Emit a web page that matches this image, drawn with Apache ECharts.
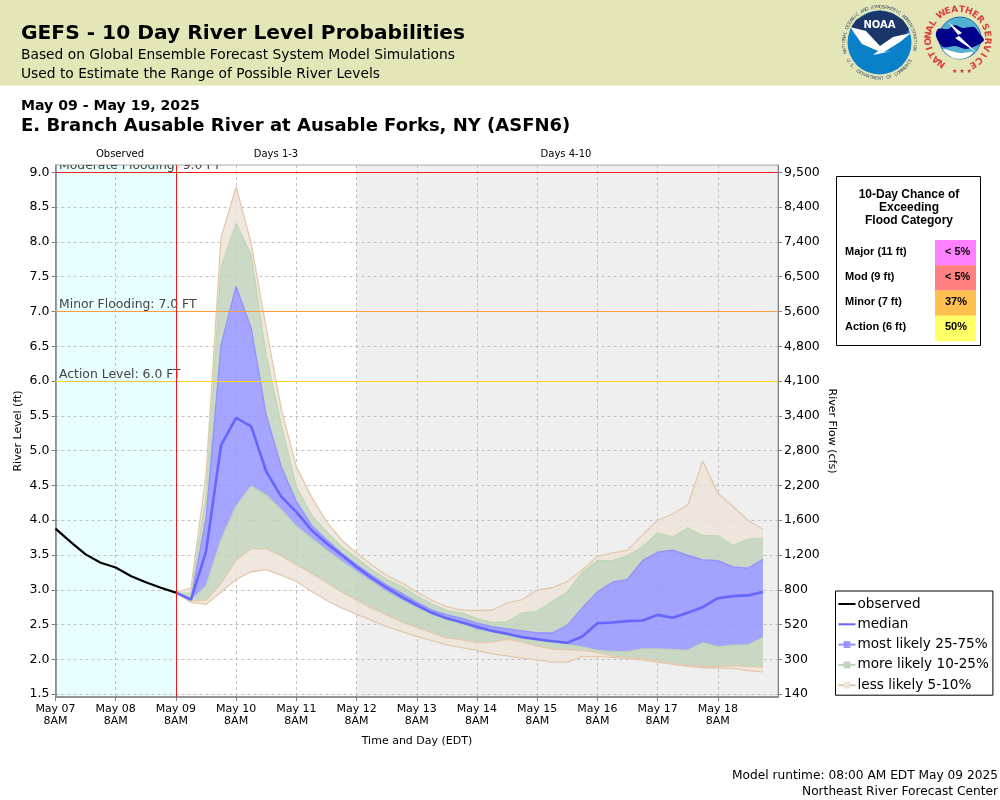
<!DOCTYPE html>
<html lang="en">
<head>
<meta charset="utf-8">
<title>GEFS River Level Probabilities</title>
<script src="https://cdn.jsdelivr.net/npm/echarts@6/dist/echarts.min.js"></script>
<style>
html,body{margin:0;padding:0;background:#fff}
#main{width:1000px;height:800px}
</style>
</head>
<body>
<div id="main"></div>
<script>
var days = ['May 07','May 08','May 09','May 10','May 11','May 12','May 13','May 14','May 15','May 16','May 17','May 18','May 19'];
var stepNames = ['8AM','2PM','8PM','2AM'];
var levelTicks = [1.5,2,2.5,3,3.5,4,4.5,5,5.5,6,6.5,7,7.5,8,8.5,9];
var flowTicks = ['140','300','520','800','1,200','1,600','2,200','2,800','3,400','4,100','4,800','5,600','6,500','7,400','8,400','9,500'];

// observed every 6h from May 07 8AM to May 09 8AM
var observed = [3.88,3.69,3.51,3.39,3.32,3.20,3.11,3.03,2.96];

// forecast every 6h from May 09 8AM
var median = [2.96,2.86,3.55,5.08,5.47,5.35,4.70,4.34,4.12,3.86,3.67,3.50,3.33,3.17,3.03,2.90,2.78,2.67,2.59,2.53,2.47,2.41,2.37,2.32,2.29,2.26,2.24,2.33,2.52,2.53,2.55,2.56,2.64,2.60,2.67,2.75,2.88,2.91,2.92,2.97];
var p5  = [2.96,2.82,2.79,2.97,3.15,3.26,3.29,3.21,3.12,2.98,2.85,2.74,2.65,2.56,2.47,2.40,2.33,2.27,2.21,2.17,2.13,2.08,2.05,2.02,1.99,1.96,1.96,2.04,2.04,2.03,2.01,1.99,1.96,1.93,1.90,1.88,1.88,1.87,1.84,1.82];
var p10 = [2.96,2.84,2.85,3.09,3.43,3.59,3.59,3.49,3.36,3.24,3.11,2.97,2.85,2.74,2.64,2.54,2.46,2.38,2.31,2.28,2.24,2.25,2.29,2.25,2.19,2.15,2.14,2.13,2.10,2.05,2.03,2.01,1.98,1.94,1.91,1.90,1.90,1.91,1.90,1.89];
var p25 = [2.96,2.85,3.05,3.72,4.20,4.49,4.36,4.15,3.91,3.74,3.57,3.41,3.26,3.12,2.97,2.85,2.74,2.64,2.56,2.52,2.42,2.40,2.34,2.31,2.27,2.24,2.21,2.18,2.13,2.11,2.11,2.15,2.15,2.14,2.13,2.24,2.18,2.20,2.21,2.31];
var p75 = [2.96,2.87,4.02,6.52,7.36,6.76,5.51,4.77,4.27,3.93,3.72,3.53,3.36,3.21,3.07,2.95,2.82,2.71,2.64,2.59,2.52,2.47,2.44,2.41,2.38,2.38,2.49,2.74,2.97,3.11,3.15,3.42,3.54,3.57,3.50,3.43,3.42,3.33,3.31,3.44];
var p90 = [2.96,2.95,4.35,7.64,8.27,7.81,6.37,5.37,4.48,4.08,3.84,3.62,3.46,3.29,3.15,3.05,2.91,2.80,2.70,2.67,2.59,2.53,2.54,2.67,2.69,2.83,2.97,3.25,3.42,3.42,3.49,3.62,3.82,3.76,3.89,3.78,3.78,3.64,3.73,3.74];
var p95 = [2.96,3.03,4.65,8.06,8.79,7.98,6.76,5.60,4.77,4.34,3.98,3.72,3.53,3.36,3.21,3.10,2.97,2.85,2.76,2.71,2.70,2.71,2.81,2.86,3.00,3.03,3.12,3.29,3.48,3.53,3.57,3.79,4.00,4.09,4.22,4.85,4.39,4.20,4.00,3.87];

var thresholdLevels = [6, 7, 9];
var thresholdNames = ['Action Level: 6.0 FT', 'Minor Flooding: 7.0 FT', 'Moderate Flooding: 9.0 FT'];
var thresholdColors = ['#ffd21e', '#ff9e40', '#f02020'];

var floodRows = ['Major (11 ft)', 'Mod (9 ft)', 'Minor (7 ft)', 'Action (6 ft)'];
var floodChances = ['< 5%', '< 5%', '37%', '50%'];
var floodColors = ['#ff80ff', '#ff8080', '#ffc050', '#ffff66'];

var sans = '"DejaVu Sans"';
var arial = '"Liberation Sans"';

// category axis, one slot per 6h
var slots = [];
for (var d = 0; d < days.length; d++) {
    for (var s = 0; s < 4; s++) {
        if (d == days.length - 1 && s > 0) break;
        slots.push(days[d] + '\n' + stepNames[s]);
    }
}

// forecast starts 8 slots in
var lead = observed.slice(0, 8).map(function () { return null; });
function pad(arr) { return lead.concat(arr); }
function diff(hi, lo) {
    return pad(hi.map(function (v, i) { return +(v - lo[i]).toFixed(2); }));
}

var TAN = {line: '#e2c9ac', fill: '#ede4d8'};
var GREEN = {line: '#bfd8b4', fill: '#c2d2bd'};
var BLUE = {line: '#9090ff', fill: '#9595ff'};

function band(name, data, col, area) {
    return {
        name: name, type: 'line', stack: 'range', data: data,
        symbol: 'rect', showSymbol: false, silent: true, z: 3,
        lineStyle: {color: col.line, width: 1.3},
        itemStyle: {color: col.fill},
        areaStyle: area ? {color: col.fill, opacity: 0.85} : null
    };
}

var LESS = 'less likely 5-10%', MORE = 'more likely 10-25%', MOST = 'most likely 25-75%';
var gridLine = {color: '#c0c0c0', width: 1, type: [3, 3]};

var series = [
    // shaded periods and the "now" line
    {
        type: 'line', data: [], silent: true,
        markArea: {
            silent: true, z: -1,
            data: [
                [{xAxis: slots[0], itemStyle: {color: '#e9ffff'}}, {xAxis: slots[8]}],
                [{xAxis: slots[20], itemStyle: {color: '#efefef'}}, {xAxis: slots[48]}]
            ]
        },
        markLine: {
            silent: true, symbol: 'none', label: {show: false}, z: 8,
            data: [{xAxis: slots[8], lineStyle: {color: '#f01818', width: 1, type: 'solid'}}]
        }
    },
    // horizontal grid at the round levels
    {
        type: 'line', data: [], silent: true,
        markLine: {
            silent: true, symbol: 'none', label: {show: false}, z: 0,
            lineStyle: gridLine,
            data: levelTicks.map(function (v) { return {yAxis: v}; })
        }
    },
    band(LESS, pad(p5), TAN, false),
    band(LESS, diff(p10, p5), TAN, true),
    band(MORE, diff(p25, p10), GREEN, true),
    band(MOST, diff(p75, p25), BLUE, true),
    band(MORE, diff(p90, p75), GREEN, true),
    band(LESS, diff(p95, p90), TAN, true),
    {
        name: 'median', type: 'line', data: pad(median), symbol: 'rect', showSymbol: false, silent: true, z: 5,
        lineStyle: {color: '#6666ff', width: 2.6}, itemStyle: {color: '#6666ff'}
    },
    {
        name: 'observed', type: 'line', data: observed, symbol: 'rect', showSymbol: false, silent: true, z: 6,
        lineStyle: {color: '#000', width: 2.2}, itemStyle: {color: '#000'}
    },
    // threshold lines and their labels, clipped to the plot
    {
        type: 'custom', silent: true, z: 7, clip: true,
        data: thresholdLevels.map(function (v) { return [0, v]; }),
        renderItem: function (params, api) {
            var p = api.coord([api.value(0), api.value(1)]);
            return {
                type: 'text', x: p[0] + 3.5, y: p[1] - 0.5,
                style: {
                    text: thresholdNames[params.dataIndex], fill: '#444',
                    font: '12.4px ' + sans, verticalAlign: 'bottom'
                }
            };
        },
        markLine: {
            silent: true, symbol: 'none', label: {show: false}, z: 7,
            data: thresholdLevels.map(function (v, i) {
                return {yAxis: v, lineStyle: {color: thresholdColors[i], width: 1, type: 'solid'}};
            })
        }
    }
];

function txt(x, y, text, font, extra) {
    var style = {x: x, y: y, text: text, font: font, fill: '#000', verticalAlign: 'middle'};
    for (var k in extra) style[k] = extra[k];
    return {type: 'text', z: 20, silent: true, style: style};
}

function poly(z, fill, pts, smooth) {
    return {type: 'polygon', z: z, silent: true, shape: {points: pts, smooth: smooth || 0}, style: {fill: fill}};
}

// letters placed one by one around a circle, used for the logos
function arcText(cx, cy, r, text, startDeg, stepDeg, font, fill, inward) {
    var out = [];
    for (var i = 0; i < text.length; i++) {
        var deg = startDeg + i * stepDeg;
        var a = deg * Math.PI / 180;
        out.push({
            type: 'text', z: 21, silent: true,
            x: cx + r * Math.sin(a), y: cy - r * Math.cos(a),
            rotation: inward ? -a + Math.PI : -a,
            style: {text: text.charAt(i), font: font, fill: fill, align: 'center', verticalAlign: 'middle'}
        });
    }
    return out;
}

var graphics = [
    {type: 'rect', z: 10, silent: true, shape: {x: 0, y: 0, width: 1000, height: 85.5}, style: {fill: '#e5e6b8'}},
    txt(21, 34, 'GEFS - 10 Day River Level Probabilities', 'bold 20.2px ' + sans),
    txt(21, 55, 'Based on Global Ensemble Forecast System Model Simulations', '13.8px ' + sans),
    txt(21, 74, 'Used to Estimate the Range of Possible River Levels', '13.8px ' + sans),
    txt(21, 106, 'May 09 - May 19, 2025', 'bold 14.1px ' + sans),
    txt(21, 126, 'E. Branch Ausable River at Ausable Forks, NY (ASFN6)', 'bold 18px ' + sans),
    txt(120, 154, 'Observed', '10px ' + sans, {align: 'center'}),
    txt(276, 154, 'Days 1-3', '10px ' + sans, {align: 'center'}),
    txt(566, 154, 'Days 4-10', '10px ' + sans, {align: 'center'}),
    txt(417, 741, 'Time and Day (EDT)', '11px ' + sans, {align: 'center'}),
    txt(998, 776, 'Model runtime: 08:00 AM EDT May 09 2025', '12.2px ' + sans, {align: 'right'}),
    txt(998, 792, 'Northeast River Forecast Center', '12.2px ' + sans, {align: 'right'}),

    // flood category box
    {type: 'rect', z: 10, silent: true, shape: {x: 836.5, y: 176.5, width: 144, height: 169}, style: {fill: '#fff', stroke: '#000', lineWidth: 1}},
    txt(909, 195, '10-Day Chance of', 'bold 12px ' + arial, {align: 'center'}),
    txt(909, 208, 'Exceeding', 'bold 12px ' + arial, {align: 'center'}),
    txt(909, 221, 'Flood Category', 'bold 12px ' + arial, {align: 'center'}),

    // NOAA logo
    {type: 'circle', z: 11, silent: true, shape: {cx: 879.5, cy: 42.5, r: 32}, style: {fill: '#0a80c8'}},
    poly(12, '#1b3668', [[850,29],[856,20],[868,13],[880,10.5],[892,13],[903,20],[909,29],[905,36],[890,42],[878,52],[865,38]]),
    poly(13, '#fff', [[850,27],[866,31],[880,46],[893,37],[911,33],[900,42],[884,52],[892,51],[873,55],[878,51],[862,44]]),
    txt(879.5, 25.5, 'NOAA', 'bold 10px ' + sans, {align: 'center', fill: '#fff'}),

    // NWS logo
    {type: 'circle', z: 11, silent: true, shape: {cx: 960, cy: 38, r: 21}, style: {fill: '#52b0d0', stroke: '#2a6fa8', lineWidth: 1}},
    poly(12, '#00008b', [[936,36],[938,29],[948,29],[955,25],[963,28],[974,27],[979,33],[984,40],[978,45],[966,49],[955,46],[943,47]], 0.3),
    poly(13, '#fff', [[948,22],[962,33],[958,35],[977,53],[955,38],[959,36]]),
    poly(12, '#fff', [[943,49],[960,53],[973,52],[966,58],[953,58]], 0.3),
    txt(962, 71, '\u2605 \u2605 \u2605', '6px ' + sans, {align: 'center', fill: '#c8323c'})
];

floodRows.forEach(function (row, i) {
    var y = 240 + i * 25.2;
    graphics.push({type: 'rect', z: 15, silent: true, shape: {x: 935, y: y, width: 41, height: 25.6}, style: {fill: floodColors[i]}});
    graphics.push(txt(845, y + 11.5, row, 'bold 11px ' + arial));
    graphics.push(txt(945, y + 11.5, floodChances[i], 'bold 11px ' + arial));
});

graphics = graphics
    .concat(arcText(879.5, 42.5, 35.5, 'NATIONAL OCEANIC AND ATMOSPHERIC ADMINISTRATION', -106, 4.5, '4.5px ' + sans, '#3c4a6a', false))
    .concat(arcText(879.5, 42.5, 36, 'U.S. DEPARTMENT OF COMMERCE', 240, -4.6, '4.5px ' + sans, '#3c4a6a', true))
    .concat(arcText(958, 39, 29.5, 'NATIONAL', -146, 12.7, 'bold 9px ' + sans, '#d8403a', false))
    .concat(arcText(958, 39, 29.5, 'WEATHER', -34, 13.8, 'bold 9px ' + sans, '#d8403a', false))
    .concat(arcText(958, 39, 29.5, 'SERVICE', 66, 14, 'bold 9px ' + sans, '#d8403a', false));

var chart = echarts.init(document.getElementById('main'), null, {renderer: 'canvas'});
chart.setOption({
    animation: false,
    backgroundColor: '#fff',
    textStyle: {fontFamily: sans},
    grid: {
        left: 55.5, top: 165, width: 722.5, height: 532, outerBoundsMode: 'none',
        show: true, borderColor: '#aaa', borderWidth: 1, backgroundColor: 'transparent'
    },
    legend: {
        orient: 'vertical', left: 835.5, top: 591,
        data: [
            {name: 'observed', itemStyle: {opacity: 0}},
            {name: 'median', itemStyle: {opacity: 0}},
            MOST, MORE, LESS
        ],
        selectedMode: false,
        backgroundColor: '#fff', borderColor: '#000', borderWidth: 1,
        padding: [6, 4, 3, 2], itemGap: 6.3, itemWidth: 17, itemHeight: 8.5,
        textStyle: {fontFamily: sans, fontSize: 13.6, color: '#000', padding: [0, 0, 0, -3]}
    },
    xAxis: {
        type: 'category', data: slots, boundaryGap: false,
        axisLine: {onZero: false, lineStyle: {color: '#808080', width: 1.5}},
        axisTick: {interval: 3, length: 4, lineStyle: {color: '#808080'}},
        splitLine: {show: true, interval: 3, lineStyle: gridLine},
        axisLabel: {
            interval: 3, color: '#000', fontSize: 11, lineHeight: 12, margin: 6,
            showMaxLabel: false, fontFamily: sans,
            formatter: function (v) { return v.indexOf(days[12]) === 0 ? '' : v; }
        }
    },
    yAxis: [
        {
            type: 'value', min: 1.46, max: 9.105,
            name: 'River Level (ft)', nameLocation: 'middle', nameGap: 32, nameRotate: 90, nameMoveOverlap: false,
            nameTextStyle: {color: '#000', fontSize: 11},
            axisLine: {show: true, lineStyle: {color: '#808080', width: 1.5}},
            axisTick: {show: true, length: 4, customValues: levelTicks, lineStyle: {color: '#808080'}},
            splitLine: {show: false},
            axisLabel: {
                color: '#000', fontSize: 12.5, margin: 6, customValues: levelTicks,
                formatter: function (v) { return v.toFixed(1); }
            }
        },
        {
            type: 'value', min: 1.46, max: 9.105, position: 'right',
            name: 'River Flow (cfs)', nameLocation: 'middle', nameGap: 48, nameRotate: -90, nameMoveOverlap: false,
            nameTextStyle: {color: '#000', fontSize: 11},
            axisLine: {show: true, lineStyle: {color: '#808080', width: 1}},
            axisTick: {show: true, length: 4, customValues: levelTicks, lineStyle: {color: '#808080'}},
            splitLine: {show: false},
            axisLabel: {
                color: '#000', fontSize: 12.5, margin: 6, customValues: levelTicks,
                formatter: function (v) { return flowTicks[levelTicks.indexOf(v)]; }
            }
        }
    ],
    graphic: {elements: graphics},
    series: series
});
</script>
</body>
</html>
